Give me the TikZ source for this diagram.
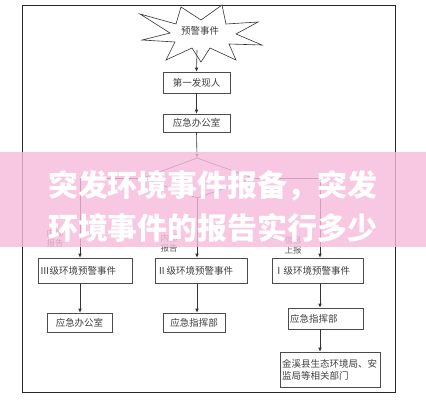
\documentclass[tikz,border=0pt]{standalone}
\usepackage{fontspec}
\newfontfamily\cjk{Noto Sans CJK SC}
\usetikzlibrary{arrows.meta}
\definecolor{bannerpink}{RGB}{247,187,221}
\begin{document}
\begin{tikzpicture}[x=1pt,y=-1pt,
  box/.style={draw=black!70, line width=0.6pt, inner sep=2pt, font=\cjk\fontsize{9.5}{12}\selectfont, text=black!75},
  lbl/.style={font=\cjk\fontsize{8.5}{10}\selectfont, text=black!65, align=center, inner sep=0pt},
  arr/.style={draw=black!80, line width=0.6pt, -{Latex[length=4pt,width=3.5pt]}},
  ln/.style={draw=black!80, line width=0.6pt},
  banner/.style={font=\cjk\bfseries\fontsize{30}{30}\selectfont, text=white, inner sep=0pt}
]
\useasboundingbox (0,0) rectangle (426,400);
\fill[white] (0,0) rectangle (426,400);
% frame
\draw[line width=1pt, black!85] (22,5) rectangle (395,392);
% starburst
\draw[line width=0.6pt, black!80, fill=white]
  (140,14) -- (176,24) -- (181,7) -- (201,20) -- (222,5) -- (226,24) -- (258,22)
  -- (236,34) -- (262,45) -- (229,44) -- (236,60) -- (210,48) -- (201,62)
  -- (192,48) -- (166,60) -- (175,42) -- (142,40) -- (170,33) -- cycle;
\node[box, draw=none] (star) at (200,31) {预警事件};
\coordinate (starb) at (197,50);
% top boxes
\node[box, minimum width=67pt, minimum height=21pt] (first) at (196.5,82.5) {第一发现人};
\node[box, minimum width=67pt, minimum height=18pt] (office) at (196.5,123) {应急办公室};
% diamond
\coordinate (dT) at (197,158);
\coordinate (dR) at (253,178);
\coordinate (dB) at (197,198);
\coordinate (dL) at (143,178);
\draw[ln] (dT) -- (dR) -- (dB) -- (dL) -- cycle;
% branch x positions
\coordinate (xL) at (80,0);
\coordinate (xR) at (320,0);
% row 1
\node[box, minimum width=94pt, minimum height=25pt, text width=90pt, align=left] (b3) at (85,270.5) {Ⅲ级环境预警事件};
\node[box, minimum width=92pt, minimum height=25pt, text width=88pt, align=left] (b2) at (201,270.5) {Ⅱ级环境预警事件};
\node[box, minimum width=91pt, minimum height=25pt, text width=87pt, align=left] (b1) at (317.5,270.5) {Ⅰ级环境预警事件};
% row 2
\node[box, minimum width=65pt, minimum height=19pt] (o3) at (79.5,322.5) {应急办公室};
\node[box, minimum width=62pt, minimum height=19pt] (c2) at (194,322.5) {应急指挥部};
\node[box, minimum width=75pt, minimum height=21pt, text width=71pt, align=left] (c1) at (325.5,318.5) {应急指挥部};
\node[box, minimum width=100pt, minimum height=35pt, text width=96pt, align=left] (dept) at (330,369.5) {金溪县生态环境局、安\\监局等相关部门};
% labels
\node[lbl] (l3) at (55,238) {内部\\报告};
\node[lbl] (l2) at (169,243) {内部\\报告};
\node[lbl] (l1) at (293,245) {信息\\上报};
% connectors
\draw[arr] (starb) -- (first.north);
\draw[arr] (first.south) -- (office.north);
\draw[arr] (office.south) -- (dT);
\draw[arr] (dL) -| (b3.north -| xL);
\draw[arr] (dB) -- (b2.north -| dB);
\draw[arr] (dR) -| (b1.north -| xR);
\draw[arr] (b3.south -| xL) -- (o3.north -| xL);
\draw[arr] (b2.south -| dB) -- (c2.north -| dB);
\draw[arr] (b1.south -| xR) -- (c1.north -| xR);
\draw[arr] (c1.south -| xR) -- (dept.north -| xR);
% banner overlay
\fill[bannerpink, opacity=0.8] (0,152) rectangle (426,247);
\node[banner] (t1) at (213,186) {突发环境事件报备，突发};
\node[banner] (t2) at (213,228) {环境事件的报告实行多少};
\end{tikzpicture}
\end{document}
